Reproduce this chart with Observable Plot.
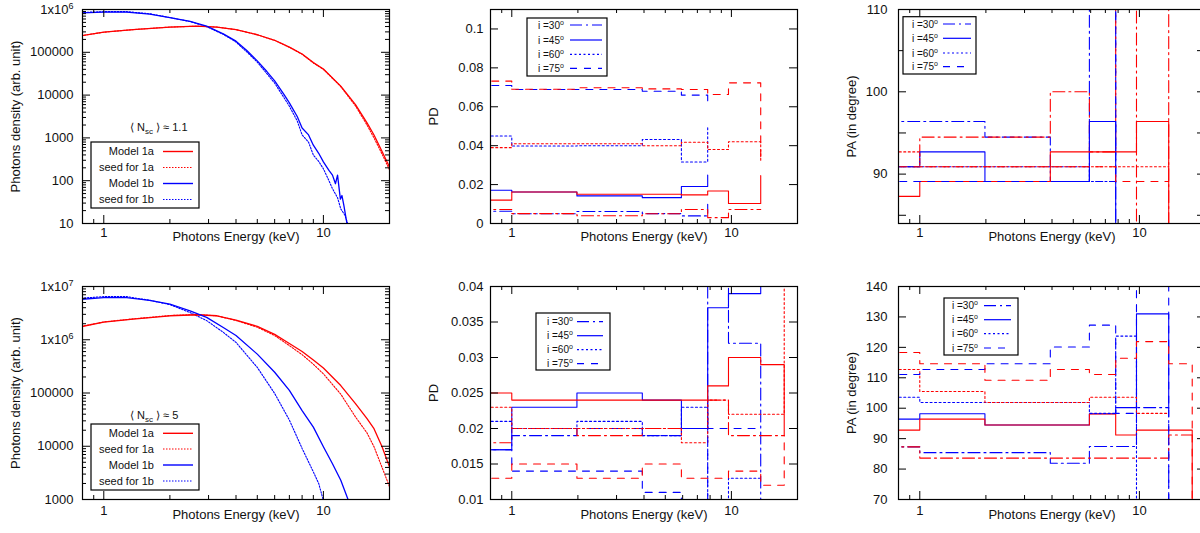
<!DOCTYPE html>
<html><head><meta charset="utf-8">
<script src="https://cdn.jsdelivr.net/npm/d3@7"></script>
<script src="https://cdn.jsdelivr.net/npm/@observablehq/plot@0.6"></script>
<style>
html,body{margin:0;padding:0;background:#fff;}
#wrap{position:relative;width:1200px;height:533px;overflow:hidden;background:#fff;}
#wrap svg{position:absolute;overflow:visible;}
</style></head>
<body><div id="wrap"></div>
<script>
// ---------------- data ----------------
const models = ["1a", "1b"];
const inclinations = ["30", "45", "60", "75"];
const energyTicks = [1, 10];
const energyMinor = [0.9, 2, 3, 4, 5, 6, 7, 8, 9];
const binEdges = [0.7, 1, 1.98, 3.93, 5.92, 7.8, 9.7, 13.6, 17.4];

// spectra, <Nsc> ~ 1.1
const specTopE1a = [0.79, 1, 1.36, 2, 2.65, 3.27, 4, 5, 6, 7, 8, 9, 10, 12, 14, 15.8, 17, 18.5, 20];
const specTopModel1a = [245000, 295000, 339000, 389000, 407000, 389000, 339000, 257000, 191000, 132000, 91000, 57500, 40700, 16200, 6000, 2240, 1170, 480, 210];
const specTopSeed1a = [245000, 295000, 339000, 389000, 407000, 389000, 339000, 257000, 190000, 131000, 90000, 56500, 40000, 15800, 5600, 2000, 1000, 420, 180];
const specTopE1b = [0.79, 1, 1.27, 1.62, 2, 2.47, 2.94, 3.5, 4, 4.48, 5, 5.53, 6, 6.6, 7, 7.6, 8, 8.56, 9, 9.52, 10, 10.6, 11, 11.35, 11.6, 11.95, 12.15, 12.4, 12.8];
const specTopModel1b = [832000, 871000, 871000, 776000, 646000, 525000, 407000, 269000, 182000, 110000, 63000, 35500, 21400, 10500, 6600, 3160, 1700, 1175, 676, 437, 275, 174, 135, 85, 135, 37, 45, 26, 10];
const specTopSeedE1b = [0.79, 1, 1.27, 1.62, 2, 2.47, 2.94, 3.5, 4, 4.48, 5, 5.53, 6, 6.6, 7, 7.6, 8, 8.56, 9, 9.52, 10, 10.6, 11, 11.6, 12, 12.5, 12.9];
const specTopSeed1b = [851000, 891000, 891000, 794000, 646000, 525000, 398000, 263000, 174000, 102000, 59000, 31600, 19000, 8900, 5500, 2500, 1175, 794, 398, 282, 190, 100, 65, 40, 22, 16, 10];

// spectra, <Nsc> ~ 5
const specBotE1a = [0.79, 1, 1.36, 2, 2.65, 3.27, 4, 5, 6, 7, 8, 9, 10, 12, 14, 15.8, 17, 18.5, 20];
const specBotModel1a = [1.76e6, 2.14e6, 2.45e6, 2.82e6, 2.95e6, 2.82e6, 2.34e6, 1.78e6, 1.26e6, 851000, 603000, 417000, 295000, 138000, 63000, 33000, 21400, 9800, 4100];
const specBotSeed1a = [1.78e6, 2.16e6, 2.47e6, 2.85e6, 2.97e6, 2.82e6, 2.3e6, 1.72e6, 1.2e6, 776000, 525000, 347000, 229000, 95000, 35500, 17800, 9800, 4000, 1740];
const specBotE1b = [0.79, 1, 1.27, 1.62, 2, 2.47, 2.94, 3.5, 4, 5, 6, 7, 8, 9, 10, 11, 12, 12.95];
const specBotModel1b = [5.75e6, 6.17e6, 6.17e6, 5.5e6, 4.68e6, 3.47e6, 2.63e6, 1.7e6, 1.2e6, 537000, 245000, 112000, 46800, 22900, 9800, 4700, 2300, 1000];
const specBotSeedE1b = [0.79, 1, 1.27, 1.62, 2, 2.47, 2.94, 3.5, 4, 5, 6, 7, 8, 9, 9.52, 9.97];
const specBotSeed1b = [6.03e6, 6.46e6, 6.46e6, 5.5e6, 4.57e6, 3.24e6, 2.29e6, 1.38e6, 891000, 302000, 98000, 31000, 9100, 3300, 2000, 1000];

// polarization degree, <Nsc> ~ 1.1 (one value per energy bin, last = closing step)
const pdTop1a = {i30: [0.0072, 0.0051, 0.0040, 0.0050, 0.0072, 0.0030, 0.0072, 0.0072],
                 i45: [0.0120, 0.0162, 0.0150, 0.0150, 0.0147, 0.0167, 0.0103, 0.0246],
                 i60: [0.0390, 0.0410, 0.0410, 0.0400, 0.0418, 0.0380, 0.0420, 0.0320],
                 i75: [0.0732, 0.0690, 0.0698, 0.0692, 0.0689, 0.0663, 0.0723, 0.0320]};
const pdTop1b = {i30: [0.0063, 0.0050, 0.0062, 0.0051, 0.0039, 0.0099],
                 i45: [0.0171, 0.0162, 0.0142, 0.0133, 0.0190, 0.0249],
                 i60: [0.0450, 0.0398, 0.0400, 0.0432, 0.0316, 0.0500],
                 i75: [0.0709, 0.0689, 0.0689, 0.0680, 0.0660, 0.0610]};
// polarization angle, <Nsc> ~ 1.1
const paTop1a = {i30: [90.9, 94.5, 94.5, 100.0, 92.7, 150, 40, 150],
                 i45: [87.3, 89.1, 89.1, 92.7, 92.7, 92.7, 96.4, 40],
                 i60: [92.7, 90.9, 90.9, 90.9, 90.9, 90.9, 90.9, 90.9],
                 i75: [90.9, 90.9, 90.9, 90.9, 90.9, 89.1, 89.1, 89.1]};
const paTop1b = {i30: [96.4, 96.4, 94.5, 89.1, 150, 40],
                 i45: [90.9, 92.7, 89.1, 89.1, 96.4, 40],
                 i60: [90.9, 90.9, 90.9, 90.9, 89.1, 89.1],
                 i75: [89.1, 89.1, 89.1, 89.1, 89.1, 150]};
// polarization degree, <Nsc> ~ 5
const pdBot1a = {i30: [0.018, 0.020, 0.019, 0.020, 0.020, 0.024, 0.019, 0.019, 0.019],
                 i45: [0.025, 0.024, 0.024, 0.024, 0.024, 0.026, 0.030, 0.029, 0.019],
                 i60: [0.023, 0.020, 0.020, 0.020, 0.018, 0.024, 0.022, 0.022, 0.050],
                 i75: [0.013, 0.015, 0.013, 0.015, 0.013, 0.013, 0.014, 0.012, 0.019]};
const pdBot1b = {i30: [0.017, 0.019, 0.020, 0.019, 0.020, 0.050, 0.032, 0.005],
                 i45: [0.017, 0.023, 0.025, 0.024, 0.020, 0.037, 0.039, 0.050],
                 i60: [0.021, 0.020, 0.021, 0.019, 0.023, 0.005, 0.013, 0.013],
                 i75: [0.017, 0.014, 0.014, 0.011, 0.005, 0.020, 0.020, 0.020]};
// polarization angle, <Nsc> ~ 5
const paBot1a = {i30: [87.3, 83.6, 83.6, 83.6, 83.6, 83.6, 83.6, 91.2, 91.2],
                 i45: [92.8, 96.4, 94.5, 94.5, 98.1, 91.2, 92.8, 92.8, 60],
                 i60: [112.7, 105.5, 101.9, 101.9, 103.6, 103.6, 98.3, 98.3],
                 i75: [118.3, 114.6, 109.2, 112.7, 111.1, 116.4, 121.9, 114.6, 60]};
const paBot1b = {i30: [87.3, 85.4, 85.4, 81.9, 87.4, 87.4, 100.2, 60],
                 i45: [96.4, 98.2, 94.5, 94.5, 98.2, 100.2, 131, 100],
                 i60: [103.6, 101.9, 101.9, 101.9, 98.3, 123.7, 40, 40],
                 i75: [111.1, 112.7, 114.6, 120.1, 127.3, 98.3, 200, 0]};

// ---------------- layout & style ----------------
const FONT = "'Liberation Sans', Arial, Helvetica, sans-serif";
const cols = [
  {left: 0, width: 400, ml: 82, mr: 11, pad: 9, titleOff: 67},
  {left: 400, width: 400, ml: 90, mr: 3, pad: 7, titleOff: 57},
  {left: 800, width: 405, ml: 98, mr: 0, pad: 11, titleOff: 47}
];
const rows = [
  {top: 0, height: 266, mt: 9, mb: 43, xPad: 4, titleDy: 17},
  {top: 266, height: 267, mt: 20, mb: 34, xPad: 6, titleDy: 19}
];
const colors = ["#ff0000", "#0000ff"];
const dashOf = {"30": "12,4,2,4", "45": null, "60": "2,2.5", "75": "7,7"};
const wrap = document.getElementById("wrap");
const id = d => d;

function decadeMinor(lo, hi) {
  const out = [];
  for (let p = lo; p < hi; p *= 10) for (let k = 2; k <= 9; k++) out.push(p * k);
  return out;
}

function stepRows(byModel) {
  const out = [];
  for (const m of ["1b", "1a"]) {
    const obj = byModel[m];
    for (const inc of inclinations) {
      obj["i" + inc].forEach((v, i) => out.push({E: binEdges[i], v, model: m, inc}));
    }
  }
  return out;
}

function histMarks(byModel) {
  const data = stepRows(byModel);
  return inclinations.map(inc => Plot.line(data.filter(d => d.inc === inc), {
    x: "E", y: "v", z: "model", stroke: "model", curve: "step-after",
    strokeWidth: 1.1, strokeDasharray: dashOf[inc] || undefined, clip: true
  }));
}

function specMarks(lines) {
  const data = [];
  for (const L of lines) L.E.forEach((e, i) => data.push({E: e, v: L.v[i], model: L.model, kind: L.kind}));
  return [
    Plot.line(data.filter(d => d.kind === "seed"), {x: "E", y: "v", z: "model", stroke: "model", strokeWidth: 1.1, strokeDasharray: "1.5,1.5", clip: true}),
    Plot.line(data.filter(d => d.kind === "model"), {x: "E", y: "v", z: "model", stroke: "model", strokeWidth: 1.3, clip: true})
  ];
}

function makePanel(ci, ri, opts) {
  const c = cols[ci], r = rows[ri];
  const fw = c.width - c.ml - c.mr, fh = r.height - r.mt - r.mb;
  const yMinor = opts.yMinor || [];
  const svg = Plot.plot({
    width: c.width, height: r.height,
    marginLeft: c.ml, marginRight: c.mr, marginTop: r.mt, marginBottom: r.mb,
    style: {fontFamily: FONT, fontSize: "13px", color: "#111", background: "none", overflow: "visible"},
    x: {type: "log", domain: [0.8, 20]},
    y: opts.y,
    color: {domain: models, range: colors},
    marks: [
      ...opts.marks,
      Plot.tickX(energyTicks, {x: id, insetTop: fh - 8, stroke: "#000"}),
      Plot.tickX(energyTicks, {x: id, insetBottom: fh - 8, stroke: "#000"}),
      Plot.tickX(energyMinor, {x: id, insetTop: fh - 4, stroke: "#000"}),
      Plot.tickX(energyMinor, {x: id, insetBottom: fh - 4, stroke: "#000"}),
      Plot.tickY(opts.yMajor, {y: id, insetRight: fw - 8, stroke: "#000"}),
      Plot.tickY(opts.yMajor, {y: id, insetLeft: fw - 8, stroke: "#000"}),
      Plot.tickY(yMinor, {y: id, insetRight: fw - 4, stroke: "#000"}),
      Plot.tickY(yMinor, {y: id, insetLeft: fw - 4, stroke: "#000"}),
      Plot.frame({stroke: "#000", strokeWidth: 1.2}),
      Plot.axisX(energyTicks, {tickSize: 0, tickPadding: r.xPad, tickFormat: d => String(d), label: null}),
      Plot.axisY(opts.yLabels, {tickSize: 0, tickPadding: c.pad, tickFormat: opts.yFormat, label: null}),
      Plot.text(["Photons Energy (keV)"], {frameAnchor: "bottom", dy: r.titleDy, fontSize: 13, textAnchor: "middle"}),
      Plot.text([opts.yTitle], {frameAnchor: "left", dx: -c.titleOff, rotate: -90, fontSize: 13, textAnchor: "middle"})
    ]
  });
  svg.style.left = c.left + "px";
  svg.style.top = r.top + "px";
  wrap.appendChild(svg);
  d3.select(svg).selectAll("text").each(function() {
    const m = (this.textContent || "").match(/^1x10\^(\d)$/);
    if (m) {
      this.textContent = "1x10";
      d3.select(this).append("tspan").attr("dy", "-0.55em").attr("font-size", "9px").text(m[1]);
    }
  });
  return {svg, ox: c.left, oy: r.top};
}

function specLegend(p, box, rowsY, textX, sample, nsc) {
  const g = d3.select(p.svg).append("g").attr("font-family", FONT).attr("font-size", "11px").attr("fill", "#111");
  g.append("rect").attr("x", box[0] - p.ox).attr("y", box[1] - p.oy).attr("width", box[2]).attr("height", box[3])
    .attr("fill", "white").attr("stroke", "#000").attr("stroke-width", 1.2);
  const items = [["Model 1a", 0, null], ["seed for 1a", 0, "1.5,1.5"], ["Model 1b", 1, null], ["seed for 1b", 1, "1.5,1.5"]];
  items.forEach(([label, ci, dash], i) => {
    const y = rowsY[i] - p.oy;
    g.append("text").attr("x", textX - p.ox).attr("y", y).attr("dy", "0.35em").attr("text-anchor", "end").text(label);
    g.append("line").attr("x1", sample[0] - p.ox).attr("x2", sample[1] - p.ox).attr("y1", y).attr("y2", y)
      .attr("stroke", colors[ci]).attr("stroke-width", dash ? 1.1 : 1.4).attr("stroke-dasharray", dash);
  });
  const t = g.append("text").attr("x", nsc.x - p.ox).attr("y", nsc.y - p.oy).attr("dy", "0.35em").attr("text-anchor", "start");
  t.append("tspan").text("\u27E8 N");
  t.append("tspan").attr("font-size", "8px").attr("dy", "3").text("sc");
  t.append("tspan").attr("dy", "-3").text(" \u27E9 \u2248 " + nsc.value);
}

function incLegend(p, box, rowsY, textX, sample) {
  const g = d3.select(p.svg).append("g").attr("font-family", FONT).attr("font-size", "10px").attr("fill", "#111");
  g.append("rect").attr("x", box[0] - p.ox).attr("y", box[1] - p.oy).attr("width", box[2]).attr("height", box[3])
    .attr("fill", "white").attr("stroke", "#000").attr("stroke-width", 1.2);
  inclinations.forEach((inc, i) => {
    const y = rowsY[i] - p.oy;
    const t = g.append("text").attr("x", textX - p.ox).attr("y", y).attr("dy", "0.35em").attr("text-anchor", "start");
    t.append("tspan").text("i =" + inc);
    t.append("tspan").attr("font-size", "7px").attr("dy", "-4").text("o");
    g.append("line").attr("x1", sample[0] - p.ox).attr("x2", sample[1] - p.ox).attr("y1", y).attr("y2", y)
      .attr("stroke", colors[1]).attr("stroke-width", 1.2).attr("stroke-dasharray", dashOf[inc]);
  });
}

const powFormat = d => d >= 1e6 ? "1x10^" + Math.round(Math.log10(d)) : String(d);
const numFormat = d => String(+d.toFixed(3));

// ---------------- panels ----------------
const p1 = makePanel(0, 0, {
  y: {type: "log", domain: [10, 1e6]},
  marks: specMarks([
    {E: specTopE1a, v: specTopSeed1a, model: "1a", kind: "seed"},
    {E: specTopSeedE1b, v: specTopSeed1b, model: "1b", kind: "seed"},
    {E: specTopE1a, v: specTopModel1a, model: "1a", kind: "model"},
    {E: specTopE1b, v: specTopModel1b, model: "1b", kind: "model"}
  ]),
  yMajor: [10, 100, 1000, 1e4, 1e5, 1e6], yMinor: decadeMinor(10, 1e6),
  yLabels: [10, 100, 1000, 1e4, 1e5, 1e6], yFormat: powFormat,
  yTitle: "Photons density (arb. unit)"
});
specLegend(p1, [91, 142, 108, 66], [151.5, 167.5, 183.5, 199.5], 154, [163, 193], {x: 130, y: 127, value: "1.1"});

const p2 = makePanel(1, 0, {
  y: {domain: [0, 0.11]},
  marks: histMarks({"1a": pdTop1a, "1b": pdTop1b}),
  yMajor: [0, 0.02, 0.04, 0.06, 0.08, 0.1],
  yLabels: [0, 0.02, 0.04, 0.06, 0.08, 0.1], yFormat: numFormat,
  yTitle: "PD"
});
incLegend(p2, [527, 18, 80, 58], [25, 40, 54.3, 68.3], 538, [570, 602]);

const p3 = makePanel(2, 0, {
  y: {domain: [84, 110]},
  marks: histMarks({"1a": paTop1a, "1b": paTop1b}),
  yMajor: [85, 90, 95, 100, 105, 110],
  yLabels: [90, 100, 110], yFormat: d => String(d),
  yTitle: "PA (in degree)"
});
incLegend(p3, [903, 16.7, 73, 57.3], [24, 38.3, 53, 66.7], 912, [943, 971]);

const p4 = makePanel(0, 1, {
  y: {type: "log", domain: [1000, 1e7]},
  marks: specMarks([
    {E: specBotE1a, v: specBotSeed1a, model: "1a", kind: "seed"},
    {E: specBotSeedE1b, v: specBotSeed1b, model: "1b", kind: "seed"},
    {E: specBotE1a, v: specBotModel1a, model: "1a", kind: "model"},
    {E: specBotE1b, v: specBotModel1b, model: "1b", kind: "model"}
  ]),
  yMajor: [1000, 1e4, 1e5, 1e6, 1e7], yMinor: decadeMinor(1000, 1e7),
  yLabels: [1000, 1e4, 1e5, 1e6, 1e7], yFormat: powFormat,
  yTitle: "Photons density (arb. unit)"
});
specLegend(p4, [91, 424, 108, 66], [433.3, 449, 465, 481], 154, [163, 193], {x: 130, y: 415, value: "5"});

const p5 = makePanel(1, 1, {
  y: {domain: [0.01, 0.04]},
  marks: histMarks({"1a": pdBot1a, "1b": pdBot1b}),
  yMajor: [0.01, 0.015, 0.02, 0.025, 0.03, 0.035, 0.04],
  yLabels: [0.01, 0.015, 0.02, 0.025, 0.03, 0.035, 0.04], yFormat: numFormat,
  yTitle: "PD"
});
incLegend(p5, [536, 313, 74, 57], [321.7, 335.7, 349.7, 363.7], 547, [577, 603]);

const p6 = makePanel(2, 1, {
  y: {domain: [70, 140]},
  marks: histMarks({"1a": paBot1a, "1b": paBot1b}),
  yMajor: [70, 80, 90, 100, 110, 120, 130, 140],
  yLabels: [70, 80, 90, 100, 110, 120, 130, 140], yFormat: d => String(d),
  yTitle: "PA (in degree)"
});
incLegend(p6, [944, 298, 74, 57], [305.7, 319.7, 333.7, 348], 952, [984, 1011]);
</script>
</body></html>
